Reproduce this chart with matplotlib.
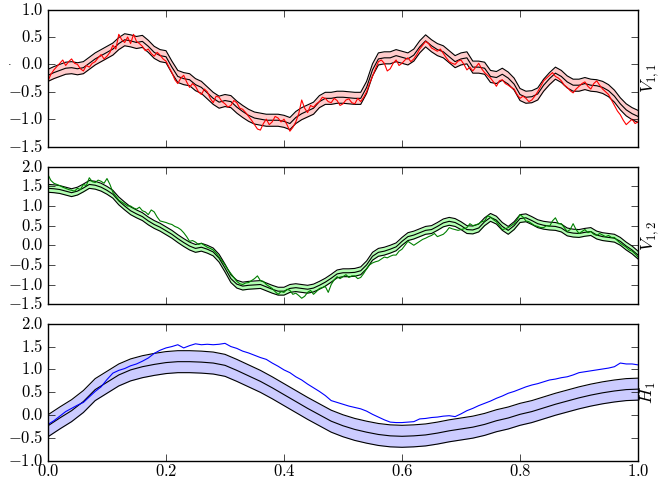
import numpy as np
import matplotlib
matplotlib.use('Agg')
import matplotlib.pyplot as plt
from matplotlib.ticker import FuncFormatter, MultipleLocator

# ---------------- data ----------------
# V_{1,1}: posterior mean (black, step 0.01) and true signal (red, step 0.005)
v11_mean = [-0.20, -0.15, -0.11, -0.07, -0.06, -0.08, -0.06, 0.02, 0.10, 0.16,
            0.22, 0.28, 0.38, 0.45, 0.43, 0.40, 0.42, 0.33, 0.22, 0.16,
            0.14, -0.05, -0.22, -0.26, -0.28, -0.37, -0.42, -0.52, -0.62, -0.69,
            -0.66, -0.68, -0.78, -0.86, -0.93, -0.98, -1.00, -1.02, -1.02, -1.02,
            -1.04, -1.08, -0.97, -0.90, -0.85, -0.80, -0.68, -0.62, -0.62, -0.60,
            -0.60, -0.61, -0.62, -0.62, -0.42, -0.10, 0.10, 0.12, 0.12, 0.16,
            0.13, 0.10, 0.17, 0.32, 0.43, 0.34, 0.27, 0.23, 0.14, 0.05,
            0.10, 0.12, -0.05, -0.05, -0.07, -0.22, -0.24, -0.18, -0.25, -0.36,
            -0.55, -0.60, -0.59, -0.54, -0.38, -0.26, -0.16, -0.22, -0.32, -0.38,
            -0.38, -0.35, -0.38, -0.39, -0.42, -0.48, -0.58, -0.72, -0.83, -0.90,
            -0.95]
v11_true = [-0.30, -0.18, -0.10, -0.04, 0.02, 0.08, -0.02, 0.05, 0.10, 0.02,
            0.00, -0.08, -0.12, -0.02, -0.05, 0.02, 0.05, 0.12, 0.18, 0.10,
            0.15, 0.22, 0.35, 0.28, 0.55, 0.45, 0.40, 0.50, 0.38, 0.55,
            0.42, 0.38, 0.33, 0.25, 0.28, 0.20, 0.15, 0.22, 0.17, 0.10,
            0.06, -0.05, -0.15, -0.28, -0.35, -0.25, -0.20, -0.32, -0.42, -0.35,
            -0.40, -0.50, -0.55, -0.45, -0.50, -0.62, -0.70, -0.58, -0.60, -0.68,
            -0.72, -0.78, -0.75, -0.66, -0.70, -0.80, -0.82, -0.88, -0.95, -1.02,
            -1.10, -1.18, -1.20, -1.08, -1.00, -1.10, -1.05, -0.95, -0.98, -1.05,
            -1.00, -1.10, -1.22, -1.15, -1.05, -0.90, -0.65, -0.80, -0.88, -0.75,
            -0.78, -0.72, -0.68, -0.60, -0.62, -0.68, -0.70, -0.62, -0.66, -0.75,
            -0.72, -0.65, -0.63, -0.70, -0.72, -0.62, -0.68, -0.60, -0.50, -0.35,
            -0.22, -0.08, 0.05, 0.08, 0.02, -0.12, -0.08, 0.02, 0.08, -0.02,
            0.02, 0.08, 0.12, 0.05, 0.10, 0.18, 0.28, 0.35, 0.42, 0.38,
            0.30, 0.27, 0.24, 0.28, 0.20, 0.12, 0.05, 0.02, 0.00, 0.06,
            0.08, 0.00, -0.10, -0.05, -0.12, -0.05, 0.02, -0.08, -0.15, -0.20,
            -0.25, -0.32, -0.40, -0.30, -0.28, -0.35, -0.38, -0.42, -0.45, -0.55,
            -0.62, -0.58, -0.62, -0.68, -0.65, -0.58, -0.50, -0.40, -0.30, -0.25,
            -0.20, -0.15, -0.22, -0.25, -0.30, -0.38, -0.42, -0.48, -0.52, -0.45,
            -0.40, -0.35, -0.32, -0.40, -0.45, -0.35, -0.30, -0.38, -0.45, -0.50,
            -0.55, -0.65, -0.75, -0.85, -0.92, -1.02, -1.10, -1.05, -1.00, -1.08,
            -1.05]
v11_std = 0.11

# V_{1,2}: posterior mean (black, step 0.01) and true signal (green, step 0.005)
v12_mean = [1.45, 1.44, 1.42, 1.38, 1.34, 1.38, 1.46, 1.55, 1.53, 1.48,
            1.40, 1.30, 1.13, 1.00, 0.88, 0.80, 0.73, 0.62, 0.53, 0.46,
            0.37, 0.28, 0.17, 0.07, -0.02, -0.08, -0.05, -0.10, -0.17, -0.33,
            -0.58, -0.85, -0.99, -1.04, -1.02, -1.01, -1.00, -1.06, -1.12, -1.17,
            -1.17, -1.10, -1.08, -1.10, -1.12, -1.09, -1.02, -0.94, -0.84, -0.73,
            -0.70, -0.70, -0.69, -0.65, -0.50, -0.28, -0.18, -0.15, -0.10, -0.04,
            0.10, 0.22, 0.26, 0.32, 0.38, 0.40, 0.48, 0.57, 0.61, 0.58,
            0.50, 0.40, 0.39, 0.44, 0.60, 0.71, 0.64, 0.48, 0.38, 0.50,
            0.68, 0.70, 0.63, 0.55, 0.51, 0.49, 0.48, 0.44, 0.34, 0.31,
            0.30, 0.33, 0.35, 0.26, 0.22, 0.20, 0.18, 0.10, -0.02, -0.12,
            -0.25]
v12_true = [1.80, 1.65, 1.58, 1.55, 1.52, 1.48, 1.45, 1.42, 1.40, 1.38,
            1.45, 1.42, 1.55, 1.52, 1.72, 1.62, 1.60, 1.66, 1.63, 1.58,
            1.70, 1.55, 1.35, 1.25, 1.15, 1.10, 1.05, 1.00, 1.00, 0.95,
            0.92, 0.97, 0.88, 0.85, 0.78, 0.90, 0.85, 0.72, 0.62, 0.60,
            0.58, 0.55, 0.53, 0.48, 0.45, 0.40, 0.32, 0.22, 0.10, 0.12,
            0.08, 0.02, 0.05, 0.00, -0.05, -0.08, -0.12, -0.20, -0.30, -0.40,
            -0.50, -0.62, -0.72, -0.82, -0.92, -0.98, -1.00, -0.96, -0.95, -0.90,
            -0.85, -0.78, -0.90, -0.92, -1.00, -1.05, -1.10, -1.18, -1.25, -1.18,
            -1.20, -1.12, -1.15, -1.25, -1.22, -1.28, -1.35, -1.30, -1.20, -1.15,
            -1.25, -1.18, -1.10, -1.08, -1.05, -1.20, -1.00, -0.88, -0.80, -0.85,
            -0.80, -0.75, -0.82, -0.78, -0.78, -0.85, -0.82, -0.72, -0.60, -0.50,
            -0.45, -0.42, -0.40, -0.35, -0.30, -0.32, -0.28, -0.25, -0.25, -0.15,
            -0.10, 0.00, 0.10, 0.05, 0.00, 0.05, 0.10, 0.15, 0.18, 0.22,
            0.25, 0.30, 0.22, 0.25, 0.28, 0.35, 0.45, 0.42, 0.40, 0.38,
            0.40, 0.42, 0.45, 0.55, 0.50, 0.52, 0.55, 0.60, 0.62, 0.75,
            0.72, 0.65, 0.60, 0.50, 0.40, 0.42, 0.45, 0.50, 0.55, 0.65,
            0.78, 0.72, 0.62, 0.60, 0.55, 0.50, 0.48, 0.45, 0.45, 0.50,
            0.48, 0.62, 0.70, 0.55, 0.55, 0.45, 0.35, 0.40, 0.55, 0.40,
            0.30, 0.35, 0.40, 0.32, 0.35, 0.28, 0.25, 0.30, 0.26, 0.22,
            0.25, 0.20, 0.20, 0.12, 0.05, 0.00, -0.05, -0.12, -0.15, -0.22,
            -0.30]
v12_std = 0.10

# H_1: posterior mean (black, step 0.02) and true signal (blue, step 0.01)
h1_mean = [-0.23, -0.06, 0.10, 0.30, 0.56, 0.72, 0.88, 0.99, 1.06, 1.11,
           1.15, 1.17, 1.17, 1.16, 1.14, 1.09, 0.98, 0.86, 0.74, 0.60,
           0.45, 0.30, 0.15, 0.01, -0.13, -0.23, -0.31, -0.37, -0.42, -0.45,
           -0.46, -0.45, -0.43, -0.39, -0.34, -0.30, -0.26, -0.20, -0.12, -0.06,
           0.02, 0.08, 0.16, 0.24, 0.31, 0.38, 0.44, 0.49, 0.53, 0.56,
           0.57]
h1_true = [-0.20, -0.12, -0.02, 0.08, 0.15, 0.22, 0.28, 0.40, 0.52, 0.62,
           0.78, 0.92, 0.98, 1.02, 1.08, 1.12, 1.18, 1.25, 1.35, 1.42,
           1.47, 1.50, 1.54, 1.47, 1.52, 1.56, 1.54, 1.55, 1.54, 1.55,
           1.57, 1.50, 1.46, 1.40, 1.36, 1.31, 1.26, 1.22, 1.14, 1.07,
           0.99, 0.93, 0.84, 0.77, 0.68, 0.60, 0.52, 0.43, 0.32, 0.28,
           0.24, 0.20, 0.17, 0.14, 0.09, 0.02, -0.04, -0.10, -0.15, -0.16,
           -0.16, -0.15, -0.14, -0.08, -0.07, -0.05, -0.04, -0.02, -0.01, -0.03,
           0.03, 0.10, 0.15, 0.21, 0.26, 0.31, 0.37, 0.42, 0.48, 0.52,
           0.57, 0.62, 0.66, 0.69, 0.73, 0.77, 0.79, 0.82, 0.84, 0.88,
           0.93, 0.95, 0.97, 0.99, 1.01, 1.03, 1.06, 1.14, 1.12, 1.12,
           1.10]
h1_std = 0.24

labels = ['$V_{1,1}$', '$V_{1,2}$', '$H_1$']
ylims = [(-1.5, 1.0), (-1.5, 2.0), (-1.0, 2.0)]

# ---------------- style ----------------
plt.style.use('classic')
plt.rcParams['mathtext.fontset'] = 'cm'
plt.rcParams['figure.facecolor'] = 'white'
plt.rcParams['savefig.facecolor'] = 'white'

fig = plt.figure(figsize=(6.6, 4.82), dpi=100)
positions = [[0.0727, 0.696, 0.894, 0.284],
             [0.0727, 0.369, 0.894, 0.285],
             [0.0727, 0.0435, 0.894, 0.285]]

panels = [
    (v11_mean, v11_std, v11_true, 'r', 'r', 0.2),
    (v12_mean, v12_std, v12_true, 'g', 'lime', 0.3),
    (h1_mean, h1_std, h1_true, 'b', 'b', 0.2),
]

fmt = FuncFormatter(lambda v, p: '$%.1f$' % v)

for i, (m, s, t, c, fc, fa) in enumerate(panels):
    ax = fig.add_axes(positions[i])
    m = np.asarray(m)
    xm = np.linspace(0.0, 1.0, len(m))
    xt = np.linspace(0.0, 1.0, len(t))
    ax.fill_between(xm, m - s, m + s, color=fc, alpha=fa, linewidth=0)
    ax.plot(xm, m + s, color='k', lw=0.8)
    ax.plot(xm, m - s, color='k', lw=0.8)
    ax.plot(xm, m, color='k', lw=0.8)
    ax.plot(xt, t, color=c, lw=0.8)
    ax.set_xlim(0, 1)
    ax.set_ylim(*ylims[i])
    ax.xaxis.set_major_locator(MultipleLocator(0.2))
    ax.yaxis.set_major_locator(MultipleLocator(0.5))
    ax.yaxis.set_major_formatter(fmt)
    ax.xaxis.set_major_formatter(fmt)
    ax.tick_params(direction='in', top=True, right=True, labelsize=12,
                   length=5, pad=3)
    ax.tick_params(axis='x', pad=1)
    if i < 2:
        ax.tick_params(labelbottom=False)
    ax.yaxis.set_label_position('right')
    ax.set_ylabel(labels[i], fontsize=13, rotation=90, labelpad=1)

fig.text(0.012, 0.865, '.', fontsize=8)

fig.savefig('out.png', dpi=100, facecolor='white')
